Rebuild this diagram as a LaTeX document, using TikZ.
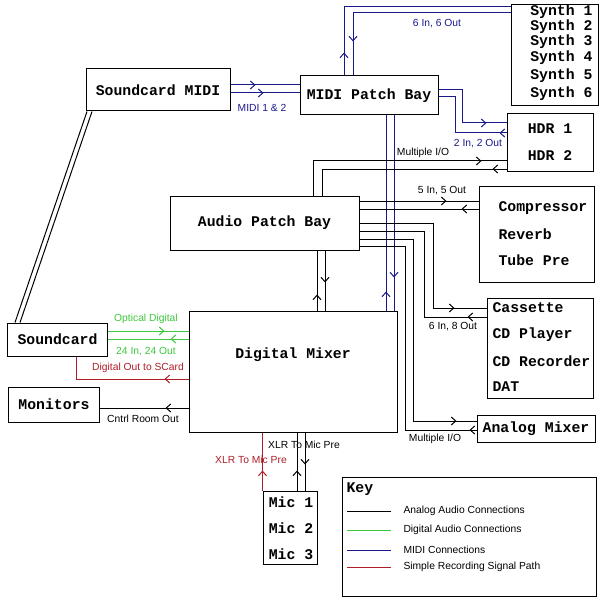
\documentclass[tikz,border=0pt]{standalone}
\usepackage{fontspec}
\setmainfont{Liberation Sans}
\newfontfamily\devfont{Liberation Mono}
\usepackage{tikz}
\usetikzlibrary{arrows.meta}
\usetikzlibrary{decorations.markings}

\definecolor{midiblue}{RGB}{25,25,140}
\definecolor{digigreen}{RGB}{60,200,60}
\definecolor{recred}{RGB}{175,30,40}

\begin{document}
\begin{tikzpicture}
[x=1bp,y=-1bp
,line width=1bp
,box/.style={draw,rectangle,inner sep=0pt,font=\devfont\bfseries\fontsize{14.8bp}{16bp}\selectfont}
,dev/.style={inner sep=0pt,font=\devfont\bfseries\fontsize{14.8bp}{16bp}\selectfont}
,lbl/.style={inner sep=0pt,font=\fontsize{10.3bp}{12bp}\selectfont}
,midi/.style={midiblue}
,digi/.style={digigreen}
,rec/.style={recred}
,fw/.style={postaction={decorate,decoration={markings,mark=at position #1 with {\arrow{Straight Barb[length=4.5bp,width=8bp]}}}}}
,bw/.style={postaction={decorate,decoration={markings,mark=at position #1 with {\arrowreversed{Straight Barb[length=4.5bp,width=8bp]}}}}}
]
\fill[white] (0,0) rectangle (600,600);
\useasboundingbox (0,0) rectangle (600,600);

% devices
\node[box,minimum width=87bp,minimum height=101bp] (synth) at (554.5,55.5) {};
\foreach \i/\yy in {1/12,2/27,3/42,4/58,5/76,6/94}
  \node[dev,anchor=east] (syn\i) at (593,\yy) {Synth \i};
\node[box,minimum width=144bp,minimum height=42bp] (smidi) at (158,90) {Soundcard MIDI};
\node[box,minimum width=138bp,minimum height=39bp] (mpb) at (369,95.5) {MIDI Patch Bay};
\node[box,minimum width=86bp,minimum height=57bp] (hdr) at (550,142.5) {};
\node[dev] (hdr1) at (550,129) {HDR 1};
\node[dev] (hdr2) at (550,156) {HDR 2};
\node[box,minimum width=189bp,minimum height=54bp] (apb) at (264.5,223) {Audio Patch Bay};
\node[box,minimum width=115bp,minimum height=95bp] (fx) at (536.5,234.5) {};
\node[dev,anchor=west] (fx1) at (498,208) {Compressor};
\node[dev,anchor=west] (fx2) at (498,234) {Reverb};
\node[dev,anchor=west] (fx3) at (498,260) {Tube Pre};
\node[box,minimum width=106bp,minimum height=100bp] (tape) at (540,348) {};
\node[dev,anchor=west] (tape1) at (492,308) {Cassette};
\node[dev,anchor=west] (tape2) at (492,335) {CD Player};
\node[dev,anchor=west] (tape3) at (492,361) {CD Recorder};
\node[dev,anchor=west] (tape4) at (492,387) {DAT};
\node[box,minimum width=118bp,minimum height=27bp] (amix) at (536,428.5) {Analog Mixer};
\node[box,minimum width=208bp,minimum height=121bp] (dmix) at (293,371.5) {};
\node[dev] (dmixt) at (293,355) {Digital Mixer};
\node[box,minimum width=99bp,minimum height=33bp] (scard) at (57.5,339.5) {Soundcard};
\node[box,minimum width=90bp,minimum height=35bp] (mon) at (54,404.5) {Monitors};
\node[box,minimum width=54bp,minimum height=73bp] (mics) at (290,527.5) {};
\foreach \i/\yy in {1/502,2/528,3/554}
  \node[dev] (mic\i) at (291,\yy) {Mic \i};

% midi
\draw[midi,fw=23bp] (mpb.north -| 344,0) |- (synth.west |- 0,7);
\draw[midi,fw=-34bp] (synth.west |- 0,13) -| (mpb.north -| 353,0);
\draw[midi,fw=25bp] (smidi.east |- 0,85) -- (mpb.west |- 0,85);
\draw[midi,fw=33bp] (smidi.east |- 0,93) -- (mpb.west |- 0,93);
\draw[midi,fw=-20bp] (mpb.east |- 0,90) -| (462,123) -- (hdr.west |- 0,123);
\draw[midi,bw=-7bp] (mpb.east |- 0,97) -| (455,133) -- (hdr.west |- 0,133);
\draw[midi,fw=19bp] (dmix.north -| 386,0) -- (mpb.south -| 386,0);
\draw[midi,fw=-33bp] (mpb.south -| 394,0) -- (dmix.north -| 394,0);

% analog audio
\draw[fw=-25bp] (apb.north -| 313,0) |- (hdr.west |- 0,161);
\draw[bw=-14bp] (apb.north -| 322,0) |- (hdr.west |- 0,169);
\draw[fw=-32bp] (apb.east |- 0,201) -- (fx.west |- 0,201);
\draw[bw=-17bp] (apb.east |- 0,209) -- (fx.west |- 0,209);
\draw[fw=-32bp] (apb.east |- 0,223) -| (433,308) -- (tape.west |- 0,308);
\draw[bw=-19bp] (apb.east |- 0,231) -| (424,317) -- (tape.west |- 0,317);
\draw[fw=-20bp] (apb.east |- 0,239) -| (413,421) -- (amix.west |- 0,421);
\draw[bw=-7bp] (apb.east |- 0,246) -| (405,430) -- (amix.west |- 0,430);
\draw[fw=16bp] (dmix.north -| 317,0) -- (apb.south -| 317,0);
\draw[fw=-28bp] (apb.south -| 325,0) -- (dmix.north -| 325,0);
\draw (scard.north -| 15,0) -- (smidi.south -| 87,0);
\draw (scard.north -| 20,0) -- (smidi.south -| 92,0);
\draw[fw=23bp] (dmix.west |- 0,408) -- (mon.east |- 0,408);
\draw[fw=20bp] (mics.north -| 297,0) -- (dmix.south -| 297,0);
\draw[fw=32bp] (dmix.south -| 305,0) -- (mics.north -| 305,0);

% digital and recording path
\draw[digi,fw=57bp] (scard.east |- 0,331) -- (dmix.west |- 0,331);
\draw[digi,bw=-18bp] (scard.east |- 0,339) -- (dmix.west |- 0,339);
\draw[rec,fw=24bp] (dmix.west |- 0,379) -| (scard.south -| 76,0);
\draw[rec,fw=20bp] (mics.north west) -- (mics.north west |- dmix.south);

% labels
\node[lbl,midi] (l6in) at (437,24) {6 In, 6 Out};
\node[lbl,midi] (lmidi) at (262,108) {MIDI 1 \& 2};
\node[lbl,midi] (l2in) at (478,144) {2 In, 2 Out};
\node[lbl] (lmio) at (423,153) {Multiple I/O};
\node[lbl] (l5in) at (442,191) {5 In, 5 Out};
\node[lbl] (l8out) at (453,327) {6 In, 8 Out};
\node[lbl] (lmio2) at (435,439) {Multiple I/O};
\node[lbl,digi] (lopt) at (146,319) {Optical Digital};
\node[lbl,digi] (l24) at (146,352) {24 In, 24 Out};
\node[lbl,rec] (ldout) at (138,368) {Digital Out to SCard};
\node[lbl] (lcro) at (143,419) {Cntrl Room Out};
\node[lbl] (lxlr) at (304,445) {XLR To Mic Pre};
\node[lbl,rec] (lxlr2) at (251,460) {XLR To Mic Pre};

% key
\node[box,minimum width=254bp,minimum height=119bp] (key) at (469,536.5) {};
\node[dev,anchor=west] (keyt) at (346,489) {Key};
\coordinate (ka1) at (347,511); \coordinate (kb1) at (391,511);
\coordinate (ka2) at (347,530); \coordinate (kb2) at (391,530);
\coordinate (ka3) at (347,550); \coordinate (kb3) at (391,550);
\coordinate (ka4) at (347,567); \coordinate (kb4) at (391,567);
\draw (ka1) -- (kb1);
\draw[digi] (ka2) -- (kb2);
\draw[midi] (ka3) -- (kb3);
\draw[rec] (ka4) -- (kb4);
\node[lbl,anchor=west] (kt1) at (403,511) {Analog Audio Connections};
\node[lbl,anchor=west] (kt2) at (403,530) {Digital Audio Connections};
\node[lbl,anchor=west] (kt3) at (403,550) {MIDI Connections};
\node[lbl,anchor=west] (kt4) at (403,567) {Simple Recording Signal Path};
\end{tikzpicture}
\end{document}
